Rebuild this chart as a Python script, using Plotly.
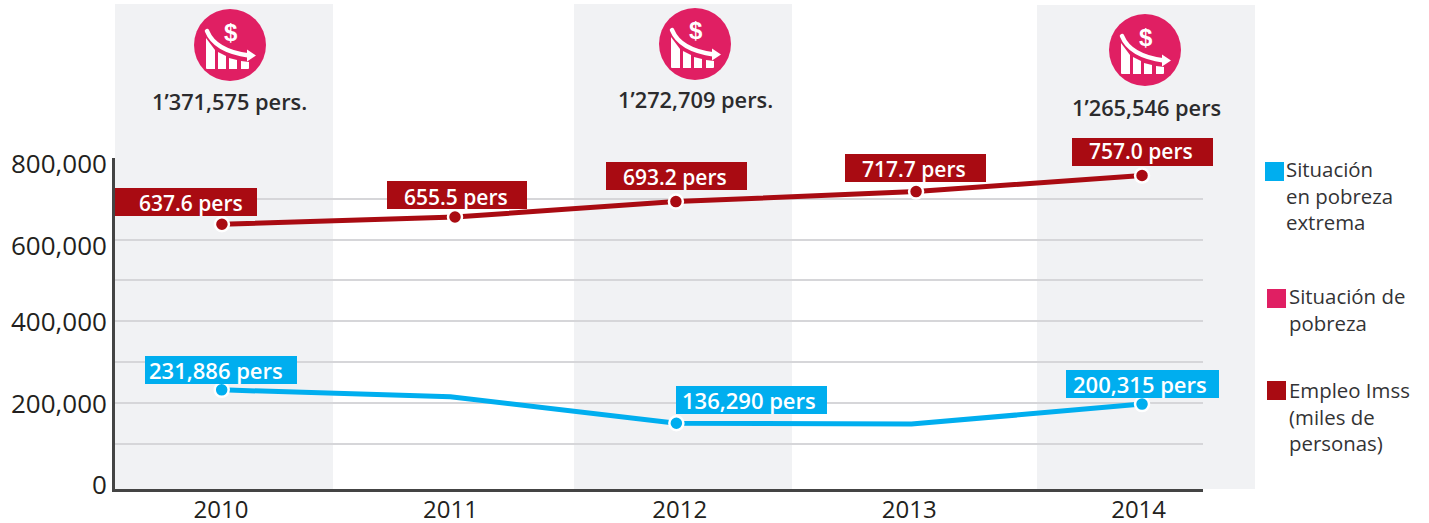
import base64
import plotly.graph_objects as go

years = [2010, 2011, 2012, 2013, 2014]
# horizontal position of each point on the year axis
empleo_x = [2010.004, 2011.02, 2011.983, 2013.03, 2014.015]
empleo = [637600, 655500, 693200, 717700, 757000]
empleo_labels = ["637.6 pers", "655.5 pers", "693.2 pers", "717.7 pers", "757.0 pers"]
extrema_x = [2010.003, 2011.0, 2011.985, 2013.01, 2014.015]
extrema = [231886, 215000, 150000, 148000, 197000]
extrema_labels = ["231,886 pers", "136,290 pers", "200,315 pers"]
extrema_label_idx = [0, 2, 4]
pobreza_labels = ["1’371,575 pers.", "1’272,709 pers.", "1’265,546 pers"]
y_ticks = [0, 200000, 400000, 600000, 800000]
y_tick_text = ["0", "200,000", "400,000", "600,000", "800,000"]
grid_vals = list(range(100000, 800001, 100000))
y_floor = -11000

RED, BLUE, PINK = "#a90b12", "#00aeef", "#e01f63"
DARK, BAND, GRID, AXIS = "#231f20", "#f1f2f4", "#d6d6d9", "#444444"
FONT = "Open Sans"
L, R, T, B = 115, 1203, 158, 489
FIG_W, FIG_H = 1429, 523


def px(x):
    return (x - L) / (R - L)


def py(y):
    return (B - y) / (B - T)


icon_svg = f'''<svg xmlns="http://www.w3.org/2000/svg" viewBox="0 0 72 72" width="72" height="72">
<circle cx="36" cy="36" r="36" fill="{PINK}"/>
<g fill="#fff"><path d="M12 29 L21 41 V60 H13 Q12 60 12 59 Z"/><path d="M24 43 L32 47 V60 H24 Z"/>
<path d="M35 49 L43 51 V60 H35 Z"/><path d="M47 52 L55 53 V59 Q55 60 54 60 H47 Z"/></g>
<path d="M13 22 Q21 42 55 46.5" fill="none" stroke="#fff" stroke-width="4.5" stroke-linecap="round"/>
<path d="M53 40.5 L62 46.5 L53 52.5 Z" fill="#fff"/></svg>'''
icon = "data:image/svg+xml;base64," + base64.b64encode(icon_svg.encode()).decode()

fig = go.Figure()
fig.add_trace(go.Scatter(x=empleo_x, y=empleo, mode="lines+markers", name="Empleo Imss",
                         line=dict(color=RED, width=5),
                         marker=dict(size=14, color=RED, line=dict(color="white", width=2.5)),
                         cliponaxis=False, showlegend=False))
fig.add_trace(go.Scatter(x=extrema_x, y=extrema, mode="lines", name="Situación en pobreza extrema",
                         line=dict(color=BLUE, width=5), cliponaxis=False, showlegend=False))
fig.add_trace(go.Scatter(x=[extrema_x[i] for i in extrema_label_idx],
                         y=[extrema[i] for i in extrema_label_idx], mode="markers",
                         marker=dict(size=14, color=BLUE, line=dict(color="white", width=2.5)),
                         cliponaxis=False, showlegend=False))

shapes, annotations, images = [], [], []


def text(x, y, s, size, color=DARK, anchor="center", weight=400, font=FONT):
    annotations.append(dict(xref="paper", yref="paper", x=px(x), y=py(y), text=s,
                            showarrow=False, xanchor=anchor, yanchor="middle", align=anchor,
                            font=dict(family=font, size=size, color=color, weight=weight),
                            borderpad=0, borderwidth=0))


def rect(x0, y0, x1, y1, color, layer="below"):
    shapes.append(dict(type="rect", xref="paper", yref="paper", x0=px(x0), x1=px(x1), y0=py(y0), y1=py(y1),
                       fillcolor=color, line_width=0, layer=layer))


for x0, x1, y0 in [(115, 333, 4), (574, 792, 4), (1037, 1255, 5)]:
    rect(x0, y0, x1, B, BAND)

for cx, cy in [(230, 45), (695, 44), (1145, 50)]:
    images.append(dict(source=icon, xref="paper", yref="paper", x=px(cx - 36), y=py(cy - 36),
                       sizex=72 / (R - L), sizey=72 / (B - T), xanchor="left", yanchor="top",
                       sizing="stretch", layer="above"))
    text(cx + 0.5, cy - 13, "$", 24, "white", weight=700, font="Liberation Sans")

for cx, cy, s in zip([229, 695, 1146], [101, 100, 107], pobreza_labels):
    text(cx, cy, s, 21.8, "#2b2b2d", weight=600)

red_boxes = [(115, 188, 257, 191, 202.5), (387, 181, 527, 456, 196.5), (606, 162, 747, 674.5, 176.5),
             (845, 154, 986, 913.5, 168.5), (1072, 138, 1213, 1140.5, 150.5)]
for (x0, y0, x1, tc, ty), s in zip(red_boxes, empleo_labels):
    rect(x0, y0, x1, y0 + 28, RED, "above")
    text(tc, ty, s, 21, "white", weight=600)

blue_boxes = [(145, 356, 297, 216), (676, 386, 827, 749), (1066, 370, 1219, 1139.5)]
for (x0, y0, x1, tc), s in zip(blue_boxes, extrema_labels):
    rect(x0, y0, x1, y0 + 28, BLUE, "above")
    text(tc, y0 + 14, s, 22, "white", weight=600)

for v, s, ty in zip(y_ticks, y_tick_text, [484, 403, 321, 245, 163]):
    text(107, ty, s, 26, DARK, anchor="right")

LEG = 20.4
rect(1265, 162, 1284, 181, BLUE, "above")
text(1286, 195.5, "Situación<br>en pobreza<br>extrema", LEG, "#333335", anchor="left")
rect(1267, 289, 1286, 308, PINK, "above")
text(1289, 309.5, "Situación de<br>pobreza", LEG, "#333335", anchor="left")
rect(1267, 381, 1286, 400, RED, "above")
text(1289, 416.5, "Empleo Imss<br>(miles de<br>personas)", LEG, "#333335", anchor="left")

fig.update_layout(
    width=FIG_W, height=FIG_H, autosize=False,
    margin=dict(l=L, r=FIG_W - R, t=T, b=FIG_H - B, pad=0, autoexpand=False),
    paper_bgcolor="white", plot_bgcolor="rgba(0,0,0,0)",
    shapes=shapes, annotations=annotations, images=images, showlegend=False,
    xaxis=dict(range=[2010 + (L - 221) / 229.4, 2010 + (R - 221) / 229.4], tickvals=years, automargin=False,
               ticktext=[str(y) for y in years], showgrid=False, zeroline=False, showline=True,
               linecolor=AXIS, linewidth=2.5, ticks="", tickfont=dict(family=FONT, size=24, color=DARK),
               ticklabelstandoff=-3),
    yaxis=dict(range=[y_floor, 800000], tickvals=grid_vals, showticklabels=False, showgrid=True, automargin=False,
               gridcolor=GRID, gridwidth=1.5, zeroline=False, showline=True, linecolor=AXIS,
               linewidth=2.5, ticks=""),
)
fig.write_html("out.html", config={"displayModeBar": False},
               post_script="document.body.style.margin='0';document.documentElement.style.overflow='hidden';")
